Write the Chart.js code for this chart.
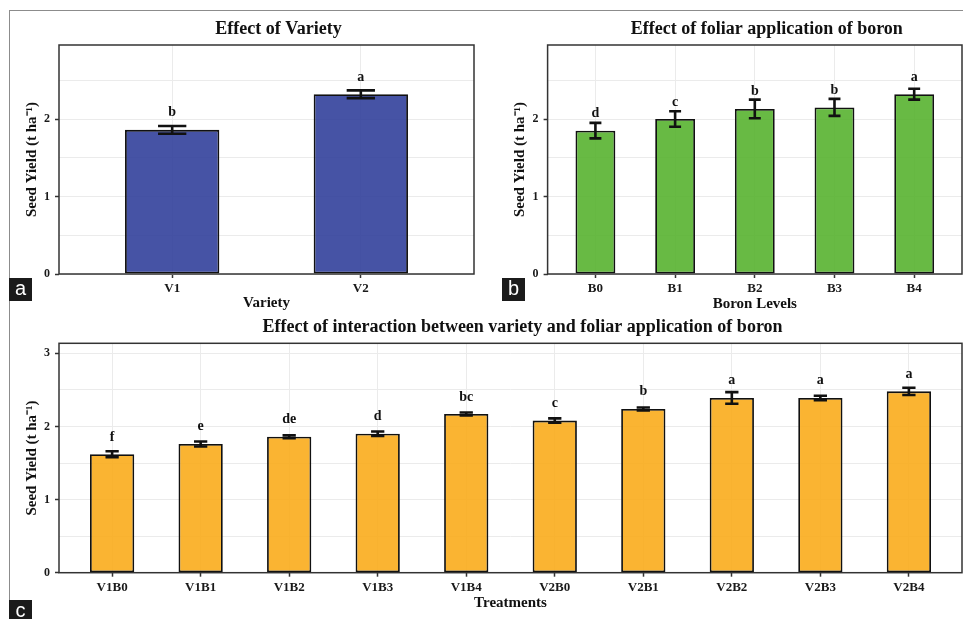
<!DOCTYPE html>
<html>
<head>
<meta charset="utf-8">
<script src="https://cdn.jsdelivr.net/npm/chart.js@4.4.1/dist/chart.umd.min.js"></script>
<style>
  body { margin: 0; background: #fff; width: 963px; height: 619px; overflow: hidden; position: relative; }
  canvas { position: absolute; left: 0; top: 0; }
  #frame { position: absolute; left: 9px; top: 10px; width: 980px; height: 640px;
           border-top: 1.5px solid #8c8c8c; border-left: 1.5px solid #8c8c8c; }
  .tag { position: absolute; width: 23px; height: 23px; background: #1b1b1b; color: #fff;
         font: 20px "Liberation Sans", Arial, sans-serif; text-align: center; line-height: 20px; }
</style>
</head>
<body>
<div id="frame"></div>
<canvas id="chartA" width="963" height="619"></canvas>
<canvas id="chartB" width="963" height="619"></canvas>
<canvas id="chartC" width="963" height="619"></canvas>
<div class="tag" style="left:9px;top:278px">a</div>
<div class="tag" style="left:502px;top:278px">b</div>
<div class="tag" style="left:9px;top:600px">c</div>

<script>
// Data (seed yield, t/ha)
const varietyLabels = ['V1', 'V2'];
const varietyYield = [1.86, 2.32];
const varietySE = [0.05, 0.05];
const varietyLetters = ['b', 'a'];

const boronLabels = ['B0', 'B1', 'B2', 'B3', 'B4'];
const boronYield = [1.85, 2.00, 2.13, 2.15, 2.32];
const boronSE = [0.10, 0.10, 0.12, 0.11, 0.07];
const boronLetters = ['d', 'c', 'b', 'b', 'a'];

const treatLabels = ['V1B0', 'V1B1', 'V1B2', 'V1B3', 'V1B4', 'V2B0', 'V2B1', 'V2B2', 'V2B3', 'V2B4'];
const treatYield = [1.62, 1.76, 1.86, 1.90, 2.17, 2.08, 2.24, 2.39, 2.39, 2.48];
const treatSE = [0.04, 0.035, 0.02, 0.03, 0.02, 0.03, 0.02, 0.08, 0.03, 0.05];
const treatLetters = ['f', 'e', 'de', 'd', 'bc', 'c', 'b', 'a', 'a', 'a'];

const yTicksAB = [0, 0.5, 1, 1.5, 2, 2.5];
const yTicksC = [0, 0.5, 1, 1.5, 2, 2.5, 3];

const SERIF = '"Liberation Serif", "Times New Roman", serif';
const W = 963, H = 619;
const Y_AXIS_W = 40, X_AXIS_H = 40;

// error bars, letters, panel border and title
function extrasPlugin(p) {
  return {
    id: 'extras',
    afterDatasetsDraw(chart) {
      const ctx = chart.ctx;
      const y = chart.scales.y;
      const area = chart.chartArea;
      const meta = chart.getDatasetMeta(0);
      ctx.save();
      ctx.strokeStyle = '#111';
      ctx.lineWidth = 2.6;
      ctx.fillStyle = '#111';
      ctx.font = 'bold 14px ' + SERIF;
      ctx.textAlign = 'center';
      ctx.textBaseline = 'alphabetic';
      meta.data.forEach((bar, i) => {
        const m = p.values[i], e = p.se[i];
        const top = y.getPixelForValue(m + e);
        const bot = y.getPixelForValue(m - e);
        const half = bar.width * 0.15;
        ctx.beginPath();
        ctx.moveTo(bar.x, top); ctx.lineTo(bar.x, bot);
        ctx.moveTo(bar.x - half, top); ctx.lineTo(bar.x + half, top);
        ctx.moveTo(bar.x - half, bot); ctx.lineTo(bar.x + half, bot);
        ctx.stroke();
        ctx.fillText(p.letters[i], bar.x, y.getPixelForValue(m) - 13.5);
      });
      ctx.strokeStyle = '#333';
      ctx.lineWidth = 1.5;
      ctx.strokeRect(area.left, area.top, area.right - area.left, area.bottom - area.top);
      ctx.fillStyle = '#111';
      ctx.font = 'bold 18px ' + SERIF;
      ctx.textBaseline = 'middle';
      ctx.fillText(p.title, (area.left + area.right) / 2 + 12, area.top - 16);
      ctx.restore();
    }
  };
}

function makePanel(id, p) {
  const n = p.labels.length;
  const points = p.values.map((v, i) => ({ x: i, y: v }));
  new Chart(document.getElementById(id), {
    type: 'bar',
    data: {
      datasets: [{
        data: points,
        backgroundColor: p.color,
        borderColor: '#111',
        borderWidth: 1.8,
        borderSkipped: false,
        categoryPercentage: 1,
        barPercentage: 0.5
      }]
    },
    options: {
      responsive: false,
      animation: false,
      layout: {
        padding: {
          left: p.area.left - Y_AXIS_W,
          top: p.area.top,
          right: W - p.area.right,
          bottom: H - p.area.bottom - X_AXIS_H
        }
      },
      plugins: { legend: { display: false }, tooltip: { enabled: false } },
      scales: {
        x: {
          type: 'linear',
          offset: false,
          min: -0.6,
          max: n - 0.4,
          afterBuildTicks: s => { s.ticks = p.labels.map((l, i) => ({ value: i })); },
          afterFit: s => { s.height = X_AXIS_H; },
          border: { display: false },
          grid: { offset: false, color: '#ebebeb', lineWidth: 1, tickColor: '#333', tickLength: 4, tickWidth: 1.5 },
          ticks: {
            padding: 3,
            color: '#1a1a1a',
            font: { family: SERIF, weight: 'bold', size: 13 },
            callback: v => p.labels[Math.round(v)]
          },
          title: {
            display: true,
            text: p.xTitle,
            color: '#111',
            font: { family: SERIF, weight: 'bold', size: 15 },
            padding: { top: 0, bottom: p.xTitlePad }
          }
        },
        y: {
          min: 0,
          max: p.yMax,
          afterBuildTicks: s => { s.ticks = p.yTicks.map(v => ({ value: v })); },
          afterFit: s => { s.width = Y_AXIS_W; },
          border: { display: false },
          grid: {
            color: '#ebebeb',
            lineWidth: 1,
            tickLength: 4,
            tickWidth: 1.5,
            tickColor: c => (c.tick && c.tick.value % 1 === 0) ? '#333' : 'rgba(0,0,0,0)'
          },
          ticks: {
            padding: 5,
            color: '#1a1a1a',
            font: { family: SERIF, weight: 'bold', size: 12 },
            callback: v => (v % 1 === 0 ? v : '')
          },
          title: {
            display: true,
            text: 'Seed Yield (t ha\u207B\u00B9)',
            color: '#111',
            font: { family: SERIF, weight: 'bold', size: 15 },
            padding: { top: 4, bottom: 0 }
          }
        }
      }
    },
    plugins: [extrasPlugin(p)]
  });
}

makePanel('chartA', {
  labels: varietyLabels, values: varietyYield, se: varietySE, letters: varietyLetters,
  color: 'rgba(50,64,155,0.9)', title: 'Effect of Variety', xTitle: 'Variety',
  yMax: 2.955, yTicks: yTicksAB, xTitlePad: 2,
  area: { left: 59, top: 45, right: 474, bottom: 274 }
});

makePanel('chartB', {
  labels: boronLabels, values: boronYield, se: boronSE, letters: boronLetters,
  color: 'rgba(88,178,48,0.9)', title: 'Effect of foliar application of boron', xTitle: 'Boron Levels',
  yMax: 2.955, yTicks: yTicksAB, xTitlePad: 1,
  area: { left: 547.6, top: 45, right: 962, bottom: 274 }
});

makePanel('chartC', {
  labels: treatLabels, values: treatYield, se: treatSE, letters: treatLetters,
  color: 'rgba(250,172,28,0.9)', title: 'Effect of interaction between variety and foliar application of boron',
  xTitle: 'Treatments', yMax: 3.137, yTicks: yTicksC, xTitlePad: 1,
  area: { left: 59, top: 343.3, right: 962, bottom: 572.7 }
});
</script>
</body>
</html>
